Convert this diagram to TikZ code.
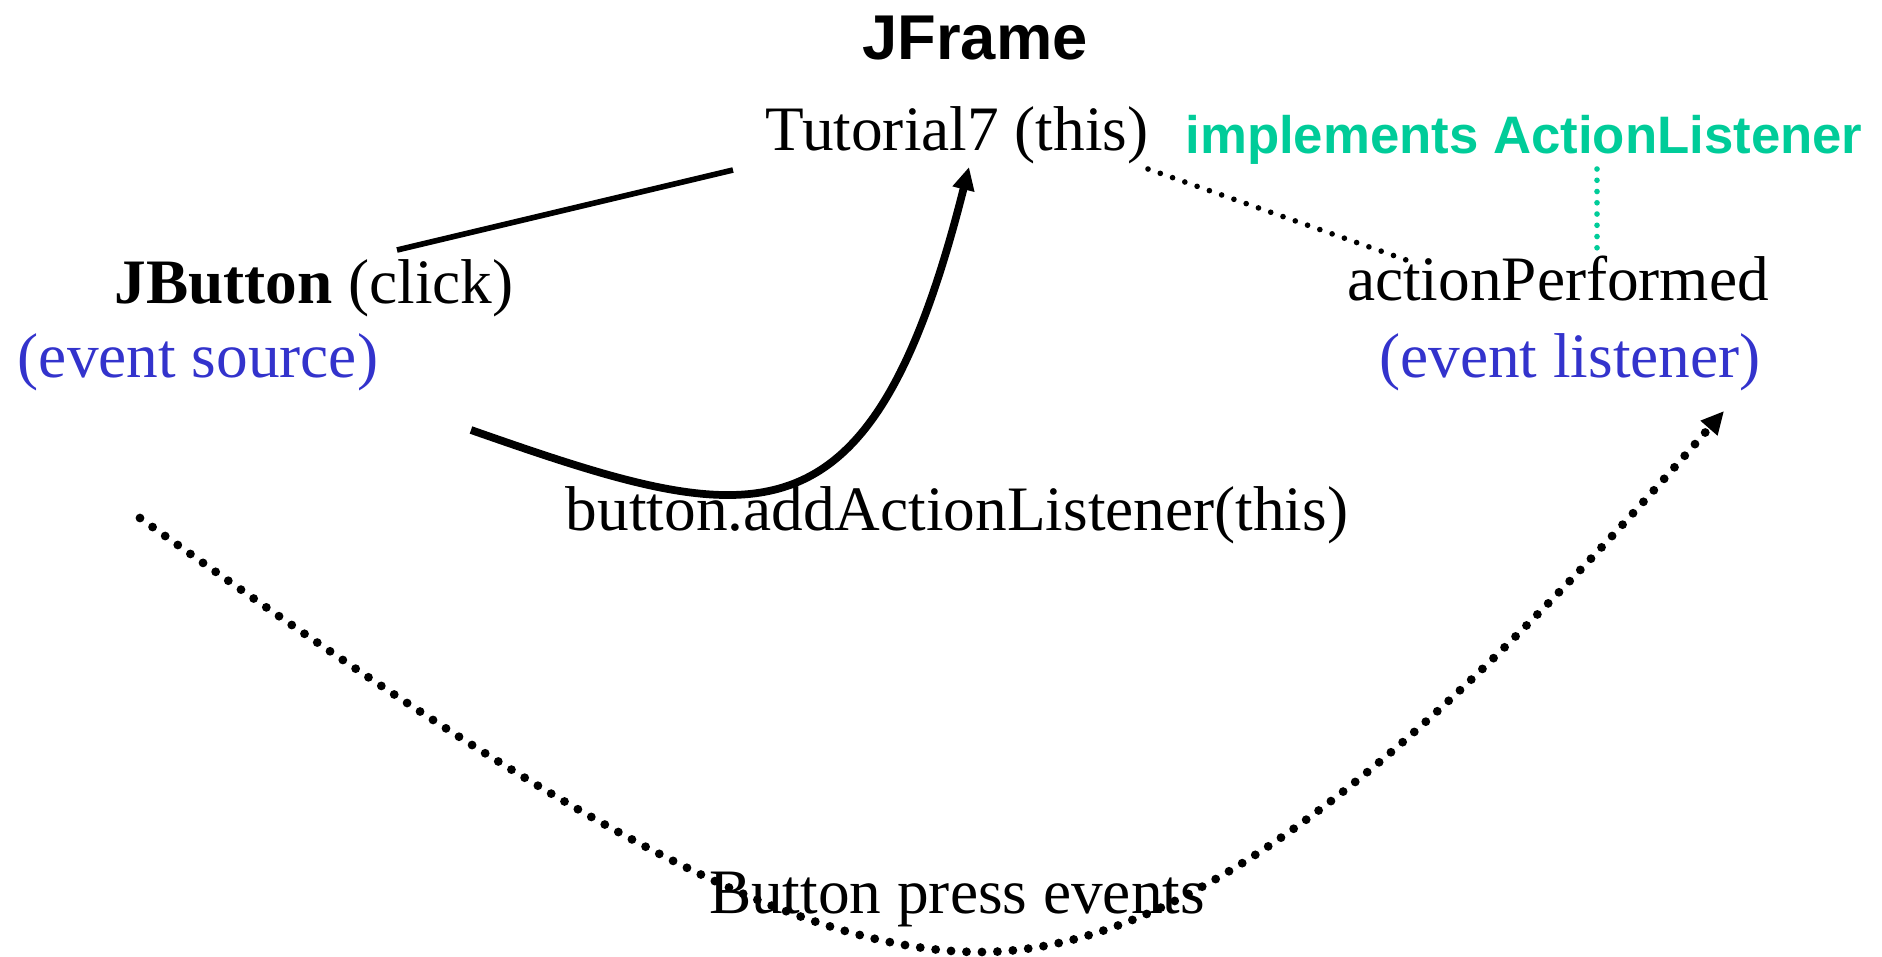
\documentclass[tikz,border=0pt]{standalone}
\usepackage{fontspec}
\setmainfont{Liberation Serif}
\setsansfont{Liberation Sans}
\usepackage{xcolor}
\usetikzlibrary{arrows.meta}
\definecolor{evblue}{RGB}{51,51,204}
\definecolor{ifgreen}{RGB}{0,204,153}

\begin{document}
\begin{tikzpicture}[x=0.01cm, y=-0.01cm,
    lbl/.style={anchor=base, inner sep=0pt, font=\fontsize{18}{22}\selectfont},
    title/.style={anchor=base, inner sep=0pt, font=\fontsize{18}{22}\selectfont\sffamily\bfseries},
    role/.style={lbl, text=evblue},
    link/.style={line width=1.6pt},
    reg/.style={-{Triangle[length=6.5pt,width=6pt]}, line width=2.2pt},
    assoc/.style={line width=1.6pt, line cap=round, dash pattern=on 0pt off 3.7pt},
    impl/.style={assoc, ifgreen, dash pattern=on 0pt off 3.2pt},
    fire/.style={-{Triangle[length=6.5pt,width=6pt]}, line width=2.5pt, line cap=round, dash pattern=on 0pt off 4.4pt}
]
    \useasboundingbox (0,0) rectangle (1882,956);
    \node[title] (jframe) at (975,59) {JFrame};
    \node[lbl] (tutorial) at (957,150) {Tutorial7 (this)};
    \node[title, font=\fontsize{15}{18}\selectfont\sffamily\bfseries, text=ifgreen] (implements) at (1524,153) {implements ActionListener};
    \node[lbl] (jbutton) at (314,303) {\textbf{JButton} (click)};
    \node[role] (source) at (198,377) {(event source)};
    \node[lbl] (performed) at (1558,300) {actionPerformed};
    \node[role] (listener) at (1570,377) {(event listener)};
    \node[lbl] (addcall) at (957,530) {button.addActionListener(this)};
    \node[lbl] (events) at (957,913) {Button press events};
    \coordinate (clickend) at (397,250);
    \coordinate (tutend) at (733,170);
    \coordinate (regstart) at (471,430);
    \coordinate (regtip) at (969,167);
    \coordinate (thisend) at (1148,169);
    \coordinate (perfend) at (1412,262);
    \coordinate (ifstart) at (1597,169);
    \coordinate (ifend) at (1597,256);
    \coordinate (firestart) at (140,518);
    \coordinate (firelow) at (980,952);
    \coordinate (firetip) at (1724,411);
    \draw[link] (clickend) -- (tutend);
    \draw[reg] (regstart) .. controls (754,529) and (870,560) .. (regtip);
    \draw[assoc] (thisend) -- (perfend);
    \draw[impl] (ifstart) -- (ifend);
    \draw[fire] (firestart) .. controls (520,790) and (780,952) .. (firelow)
        .. controls (1200,952) and (1444,731) .. (firetip);
\end{tikzpicture}
\end{document}
